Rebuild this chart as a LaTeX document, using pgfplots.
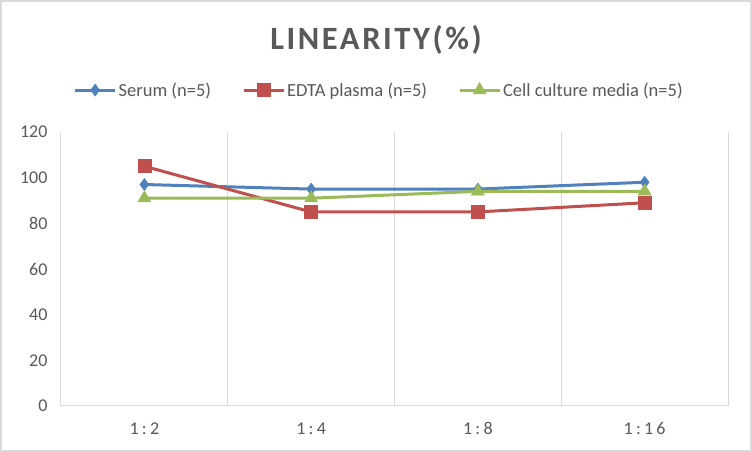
\documentclass[border=0pt]{standalone}
\usepackage{fontspec}
\setmainfont{Carlito}
\newfontfamily\spacedfont[LetterSpace=18]{Carlito}
\newfontfamily\titlefont[LetterSpace=8]{Carlito}
\usepackage{pgfplots}
\pgfplotsset{compat=1.18}

\definecolor{serum}{HTML}{4F81BD}
\definecolor{edta}{HTML}{C0504D}
\definecolor{cell}{HTML}{9BBB59}
\definecolor{txt}{HTML}{595959}
\definecolor{gridc}{HTML}{D9D9D9}

\begin{document}
\begin{tikzpicture}
\draw[gridc, line width=2pt, fill=white] (1pt,1pt) rectangle (751pt,451pt);
\node[txt, font=\titlefont\bfseries\fontsize{32.5}{38}\selectfont] at (376pt,412pt) {LINEARITY(\%)};
\begin{axis}[
  at={(61pt,46pt)}, anchor=south west,
  width=667pt, height=274pt, scale only axis,
  xmin=-0.5, xmax=3.5, ymin=0, ymax=120,
  xtick={0,1,2,3},
  xticklabels={1:2, 1:4, 1:8, 1:16},
  ytick={0,20,...,120},
  extra x ticks={-0.5,0.5,1.5,2.5,3.5},
  extra x tick labels={},
  extra x tick style={grid=major, major grid style={gridc, line width=1pt}},
  axis x line*=bottom, axis y line*=left,
  x axis line style={gridc, line width=1pt, -},
  y axis line style={draw=none},
  major tick length=0pt,
  tick label style={txt, font=\fontsize{18}{21}\selectfont},
  xticklabel style={font=\spacedfont\fontsize{18}{21}\selectfont, yshift=-13pt},
  yticklabel style={xshift=-10pt},
  /pgf/number format/assume math mode=true,
  legend style={at={(0.477,1.153)}, anchor=center, draw=none,
    legend columns=3, font=\fontsize{18.5}{21}\selectfont, text=txt,
    /tikz/every even column/.append style={column sep=29pt}},
  legend image code/.code={
    \draw[mark repeat=2, mark phase=2] plot coordinates {(0pt,0pt) (20pt,0pt) (40pt,0pt)};
  },
  every axis plot/.append style={line width=3pt},
  clip=false,
]
\addplot[serum, mark=diamond*, mark size=6pt, mark options={line width=0.5pt}] coordinates {(0,97) (1,95) (2,95) (3,98)};
\addlegendentry{Serum (n=5)}
\addplot[edta, mark=square*, mark size=6.5pt, mark options={line width=0.5pt}] coordinates {(0,105) (1,85) (2,85) (3,89)};
\addlegendentry{EDTA plasma (n=5)}
\addplot[cell, mark=triangle*, mark size=7.5pt, mark options={line width=0.5pt}] coordinates {(0,91) (1,91) (2,94) (3,94)};
\addlegendentry{Cell culture media (n=5)}
\end{axis}
\end{tikzpicture}
\end{document}
